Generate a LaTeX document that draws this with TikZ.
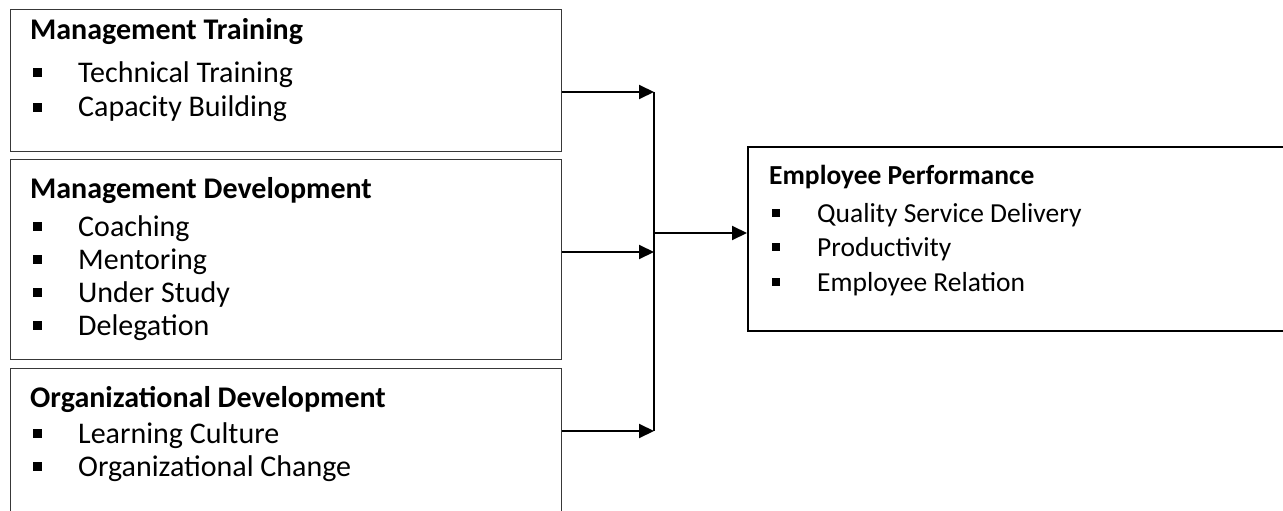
\documentclass[tikz,border=0pt]{standalone}
\usepackage{fontspec}
\setmainfont{Carlito}
\usetikzlibrary{arrows.meta}
\begin{document}
\begin{tikzpicture}[x=1pt,y=-1pt,
  inbox/.style={draw=black!78, line width=1.3pt, anchor=north west, inner sep=0pt},
  outbox/.style={draw=black, line width=2pt, anchor=north west, inner sep=0pt},
  ttl/.style={anchor=base west, inner sep=0pt, font=\fontsize{30}{36}\selectfont\bfseries},
  itm/.style={anchor=base west, inner sep=0pt, font=\fontsize{30}{36}\selectfont},
  ttlr/.style={anchor=base west, inner sep=0pt, font=\fontsize{27.5}{33}\selectfont\bfseries},
  itmr/.style={anchor=base west, inner sep=0pt, font=\fontsize{27.5}{33}\selectfont},
  bul/.style={fill=black, minimum size=9pt, inner sep=0pt},
  bulr/.style={fill=black, minimum size=8.5pt, inner sep=0pt},
  arr/.style={line width=2pt, -{Triangle[length=15pt,width=14pt]}},
  trunk/.style={line width=2pt}]
\useasboundingbox (0,0) rectangle (1283,511);
% boxes
\node[inbox, minimum width=551pt, minimum height=142pt] (b1) at (10,9) {};
\node[inbox, minimum width=551pt, minimum height=200pt] (b2) at (10,159) {};
\node[inbox, minimum width=551pt, minimum height=160pt] (b3) at (10,368) {};
\node[outbox, minimum width=560pt, minimum height=184pt] (b4) at (747,146) {};
% box 1
\node[ttl] (t1) at (30,40) {Management Training};
\node[bul] (u11) at (37,73) {};
\node[itm] (i11) at (78,83) {Technical Training};
\node[bul] (u12) at (37,107) {};
\node[itm] (i12) at (78,117) {Capacity Building};
% box 2
\node[ttl] (t2) at (30,198) {Management Development};
\node[bul] (u21) at (37,226) {};
\node[itm] (i21) at (78,236) {Coaching};
\node[bul] (u22) at (37,259) {};
\node[itm] (i22) at (78,269) {Mentoring};
\node[bul] (u23) at (37,292) {};
\node[itm] (i23) at (78,302) {Under Study};
\node[bul] (u24) at (37,325) {};
\node[itm] (i24) at (78,335) {Delegation};
% box 3
\node[ttl] (t3) at (30,407) {Organizational Development};
\node[bul] (u31) at (37,433) {};
\node[itm] (i31) at (78,443) {Learning Culture};
\node[bul] (u32) at (37,466) {};
\node[itm] (i32) at (78,476) {Organizational Change};
% box 4
\node[ttlr] (t4) at (769,184) {Employee Performance};
\node[bulr] (u41) at (776,213) {};
\node[itmr] (i41) at (817,222) {Quality Service Delivery};
\node[bulr] (u42) at (776,247) {};
\node[itmr] (i42) at (817,256) {Productivity};
\node[bulr] (u43) at (776,282) {};
\node[itmr] (i43) at (817,291) {Employee Relation};
% connectors
\coordinate (j1) at (654,92);
\coordinate (j2) at (654,252);
\coordinate (j3) at (654,431);
\coordinate (jm) at (654,233);
\draw[arr] (b1.east |- j1) -- (j1);
\draw[arr] (b2.east |- j2) -- (j2);
\draw[arr] (b3.east |- j3) -- (j3);
\draw[trunk] (j1) -- (j3);
\draw[arr] (jm) -- (b4.west |- jm);
\end{tikzpicture}
\end{document}
